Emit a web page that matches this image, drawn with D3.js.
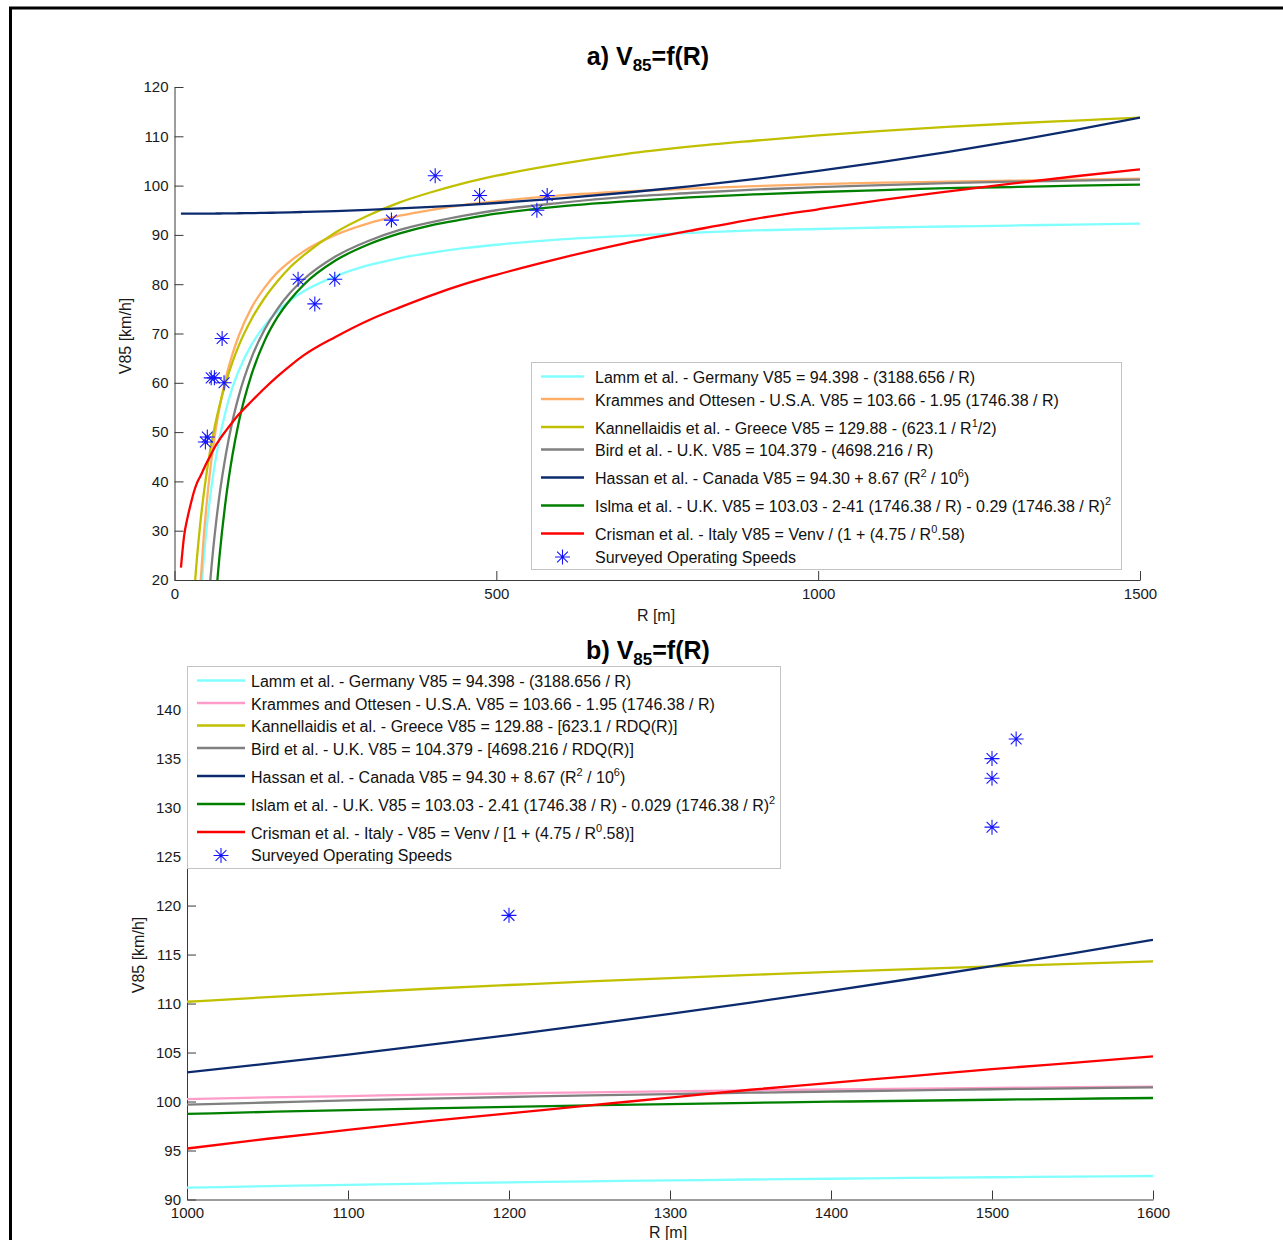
<!DOCTYPE html>
<html>
<head>
<meta charset="utf-8">
<script src="https://cdn.jsdelivr.net/npm/d3@7"></script>
<style>
  body { margin: 0; background: #fff; }
  svg { font-family: "Liberation Sans", Arial, sans-serif; }
  text { white-space: pre; }
</style>
</head>
<body>
<div id="vis"></div>
<script>
//Frame constants
const FRAME_WIDTH = 1283;
const FRAME_HEIGHT = 1240;

//---- Data, panel a (R 0-1500) ----
const R_A = [10, 15, 20, 25, 30, 35, 40, 45, 50, 55, 60, 65, 70, 80, 90, 100, 120, 140, 160, 180, 200,
             250, 300, 350, 400, 450, 500, 600, 700, 800, 900, 1000, 1100, 1200, 1300, 1400, 1500];
const LAMM_A = [null, null, null, null, null, 3.3, 14.7, 23.5, 30.6, 36.4, 41.3, 45.3, 48.8, 54.5, 59.0, 62.5,
                67.8, 71.6, 74.5, 76.7, 78.5, 81.6, 83.8, 85.3, 86.4, 87.3, 88.0, 89.1, 89.8, 90.4, 90.9,
                91.2, 91.5, 91.7, 91.9, 92.1, 92.3];
const KRAMMES_A = [null, null, null, null, null, 6.4, 18.5, 28.0, 35.5, 41.8, 46.9, 51.3, 55.0, 61.1, 65.8, 69.6,
                   75.3, 79.3, 82.4, 84.7, 86.6, 90.0, 92.3, 93.9, 95.1, 96.1, 96.8, 98.0, 98.8, 99.4, 99.9,
                   100.3, 100.6, 100.8, 101.0, 101.2, 101.4];
const KANNELLAIDIS_A = [null, null, null, 5.3, 16.1, 24.6, 31.4, 37.0, 41.8, 45.9, 49.5, 52.6, 55.4, 60.2, 64.2, 67.6,
                        73.0, 77.2, 80.6, 83.5, 85.8, 90.5, 93.9, 96.6, 98.7, 100.5, 102.0, 104.4, 106.4, 107.9, 109.1,
                        110.2, 111.1, 111.9, 112.6, 113.2, 113.8];
const BIRD_A = [null, null, null, null, null, null, null, 0.0, 10.4, 19.0, 26.1, 32.1, 37.3, 45.6, 52.2, 57.4,
                65.2, 70.8, 75.0, 78.3, 80.9, 85.6, 88.7, 91.0, 92.6, 93.9, 95.0, 96.5, 97.7, 98.5, 99.2,
                99.7, 100.1, 100.5, 100.8, 101.0, 101.2];
const HASSAN_A = [94.30, 94.30, 94.30, 94.31, 94.31, 94.31, 94.31, 94.32, 94.32, 94.33, 94.33, 94.34, 94.34, 94.36, 94.37, 94.39,
                  94.42, 94.47, 94.52, 94.58, 94.65, 94.84, 95.08, 95.36, 95.69, 96.06, 96.47, 97.42, 98.55, 99.85, 101.32,
                  102.97, 104.79, 106.78, 108.95, 111.29, 113.81];
const ISLAM_A = [null, null, null, null, null, null, null, null, null, -2.7, 8.2, 17.4, 24.9, 36.6, 45.3, 52.1,
                 61.8, 68.5, 73.3, 76.9, 79.8, 84.8, 88.0, 90.3, 92.0, 93.2, 94.3, 95.8, 96.8, 97.6, 98.2,
                 98.7, 99.1, 99.5, 99.7, 100.0, 100.2];
const CRISMAN_A = [22.5, 29.0, 32.5, 35.3, 37.8, 39.7, 41.0, 42.4, 43.8, 45.0, 46.3, 47.5, 48.5, 50.3, 52.0, 53.6,
                   56.3, 58.9, 61.3, 63.5, 65.5, 69.3, 72.6, 75.3, 77.8, 80.0, 81.9, 85.3, 88.3, 90.8, 93.2,
                   95.2, 97.1, 98.8, 100.4, 101.9, 103.3];
const SURVEY_R_A = [48, 51, 57, 62, 74, 77, 192, 218, 249, 337, 405, 474, 563, 579];
const SURVEY_V_A = [48, 49, 61, 61, 69, 60, 81, 76, 81, 93, 102, 98, 95, 98];

//---- Data, panel b (R 1000-1600) ----
const R_B = [1000, 1050, 1100, 1150, 1200, 1250, 1300, 1350, 1400, 1450, 1500, 1550, 1600];
const LAMM_B = [91.21, 91.36, 91.50, 91.63, 91.74, 91.85, 91.95, 92.04, 92.12, 92.20, 92.27, 92.34, 92.40];
const KRAMMES_B = [100.25, 100.42, 100.56, 100.70, 100.82, 100.94, 101.04, 101.14, 101.23, 101.31, 101.39, 101.46, 101.53];
const KANNELLAIDIS_B = [110.18, 110.65, 111.09, 111.51, 111.89, 112.26, 112.60, 112.92, 113.23, 113.52, 113.79, 114.05, 114.30];
const BIRD_B = [99.68, 99.90, 100.11, 100.29, 100.46, 100.62, 100.76, 100.90, 101.02, 101.14, 101.25, 101.35, 101.44];
const HASSAN_B = [102.97, 103.86, 104.79, 105.77, 106.78, 107.85, 108.95, 110.10, 111.29, 112.53, 113.81, 115.13, 116.50];
const ISLAM_B = [98.73, 98.94, 99.13, 99.30, 99.46, 99.61, 99.74, 99.86, 99.98, 100.08, 100.18, 100.28, 100.36];
const CRISMAN_B = [95.2, 96.2, 97.1, 98.0, 98.8, 99.6, 100.4, 101.2, 101.9, 102.6, 103.3, 103.95, 104.6];
const SURVEY_R_B = [1200, 1500, 1500, 1500, 1515];
const SURVEY_V_B = [119, 135, 133, 128, 137];

//Ticks
const X_TICKS_A = [0, 500, 1000, 1500];
const Y_TICKS_A = [20, 30, 40, 50, 60, 70, 80, 90, 100, 110, 120];
const X_TICKS_B = [1000, 1100, 1200, 1300, 1400, 1500, 1600];
const Y_TICKS_B = [90, 95, 100, 105, 110, 115, 120, 125, 130, 135, 140];

//Legend labels (^x = one superscript character)
const LEGEND_A = [
  "Lamm et al. - Germany V85 = 94.398 - (3188.656 / R)",
  "Krammes and Ottesen - U.S.A. V85 = 103.66 - 1.95 (1746.38 / R)",
  "Kannellaidis et al. - Greece V85 = 129.88 - (623.1 / R^1/2)",
  "Bird et al. - U.K. V85 = 104.379 - (4698.216 / R)",
  "Hassan et al. - Canada V85 = 94.30 + 8.67 (R^2 / 10^6)",
  "Islma et al. - U.K. V85 = 103.03 - 2-41 (1746.38 / R) - 0.29 (1746.38 / R)^2",
  "Crisman et al. - Italy V85 = Venv / (1 + (4.75 / R^0.58)",
  "Surveyed Operating Speeds"
];
const LEGEND_B = [
  "Lamm et al. - Germany V85 = 94.398 - (3188.656 / R)",
  "Krammes and Ottesen - U.S.A. V85 = 103.66 - 1.95 (1746.38 / R)",
  "Kannellaidis et al. - Greece V85 = 129.88 - [623.1 / RDQ(R)]",
  "Bird et al. - U.K. V85 = 104.379 - [4698.216 / RDQ(R)]",
  "Hassan et al. - Canada V85 = 94.30 + 8.67 (R^2 / 10^6)",
  "Islam et al. - U.K. V85 = 103.03 - 2.41 (1746.38 / R) - 0.029 (1746.38 / R)^2",
  "Crisman et al. - Italy - V85 = Venv / [1 + (4.75 / R^0.58)]",
  "Surveyed Operating Speeds"
];

const COLORS_A = ["#80ffff", "#ffae68", "#c0c000", "#808080", "#0c2b6e", "#008000", "#ff0000"];
const COLORS_B = ["#80ffff", "#ff9cc9", "#c0c000", "#808080", "#0c2b6e", "#008000", "#ff0000"];
const STAR_COLOR = "#1414ff";

//Create frame
const FRAME = d3.select("#vis")
                  .append("svg")
                    .attr("width", FRAME_WIDTH)
                    .attr("height", FRAME_HEIGHT);

//outer border (top and left only are in view)
FRAME.append("path")
      .attr("d", "M10.5,1240 V8 H1283")
      .attr("fill", "none")
      .attr("stroke", "#000")
      .attr("stroke-width", 3);

//MATLAB style star marker
function starPath(cx, cy, r) {
  const p = d3.path();
  const d = r * 0.72;
  p.moveTo(cx - r, cy); p.lineTo(cx + r, cy);
  p.moveTo(cx, cy - r); p.lineTo(cx, cy + r);
  p.moveTo(cx - d, cy - d); p.lineTo(cx + d, cy + d);
  p.moveTo(cx - d, cy + d); p.lineTo(cx + d, cy - d);
  return p.toString();
}

//text with one-char superscripts
function richText(sel, str, supSize) {
  const parts = str.split(/\^(.)/);
  parts.forEach((p, i) => {
    if (p === "") return;
    const t = sel.append("tspan").text(p);
    if (i % 2 === 1) t.attr("font-size", supSize).attr("dy", -7);
    else if (i > 0) t.attr("dy", 7);
  });
}

function drawPanel(cfg) {
  const X_SCALE = d3.scaleLinear().domain(cfg.xDomain).range([cfg.left, cfg.right]);
  const Y_SCALE = d3.scaleLinear().domain(cfg.yDomain).range([cfg.bottom, cfg.top]);

  const g = FRAME.append("g");

  //Title
  const title = g.append("text")
                  .attr("x", cfg.titleX)
                  .attr("y", cfg.titleY)
                  .attr("text-anchor", "middle")
                  .attr("font-weight", "bold")
                  .attr("font-size", 25)
                  .attr("fill", "#000");
  title.append("tspan").text(cfg.titlePrefix + "V");
  title.append("tspan").attr("font-size", 17).attr("dy", 6).text("85");
  title.append("tspan").attr("dy", -6).text("=f(R)");

  //X axis
  const xAxis = g.append("g")
        .attr("transform", "translate(0," + cfg.bottom + ")")
        .call(d3.axisBottom(X_SCALE).tickValues(cfg.xTicks).tickFormat(d3.format("d"))
                .tickSizeInner(-9).tickSizeOuter(0).tickPadding(8));
  //Y axis
  const yAxis = g.append("g")
        .attr("transform", "translate(" + cfg.left + ",0)")
        .call(d3.axisLeft(Y_SCALE).tickValues(cfg.yTicks).tickFormat(d3.format("d"))
                .tickSizeInner(-9).tickSizeOuter(0).tickPadding(6));
  [xAxis, yAxis].forEach((ax) => {
    ax.attr("font-size", 15).attr("font-family", null);
    ax.select(".domain").attr("stroke", "#3a3a3a");
    ax.selectAll(".tick line").attr("stroke", "#3a3a3a");
    ax.selectAll(".tick text").attr("fill", "#1a1a1a");
  });

  //Axis labels
  g.append("text")
    .attr("x", cfg.xLabelX).attr("y", cfg.xLabelY)
    .attr("text-anchor", "middle").attr("font-size", 16).attr("fill", "#1a1a1a")
    .text("R [m]");
  g.append("text")
    .attr("transform", "translate(" + cfg.yLabelX + "," + cfg.yLabelY + ") rotate(-90)")
    .attr("text-anchor", "middle").attr("dy", "0.35em").attr("font-size", 16).attr("fill", "#1a1a1a")
    .text("V85 [km/h]");

  //Clip for curves
  g.append("clipPath").attr("id", cfg.id + "-clip")
    .append("rect")
      .attr("x", cfg.left).attr("y", cfg.top)
      .attr("width", cfg.right - cfg.left).attr("height", cfg.bottom - cfg.top);

  const line = d3.line()
                  .defined((d) => d[1] !== null)
                  .curve(d3.curveMonotoneX)
                  .x((d) => X_SCALE(d[0]))
                  .y((d) => Y_SCALE(d[1]));

  g.append("g")
    .attr("clip-path", "url(#" + cfg.id + "-clip)")
    .selectAll("path")
    .data(cfg.series)
    .enter()
    .append("path")
      .attr("d", (s) => line(cfg.r.map((r, i) => [r, s[i]])))
      .attr("fill", "none")
      .attr("stroke", (s, i) => cfg.colors[i])
      .attr("stroke-width", 2.3)
      .attr("stroke-linejoin", "round");

  //Surveyed points
  g.append("g")
    .selectAll("path")
    .data(cfg.surveyR.map((r, i) => [r, cfg.surveyV[i]]))
    .enter()
    .append("path")
      .attr("d", (d) => starPath(X_SCALE(d[0]), Y_SCALE(d[1]), 7.5))
      .attr("stroke", STAR_COLOR)
      .attr("stroke-width", 1.1)
      .attr("fill", "none");

  //Legend
  const L = cfg.legend;
  const lg = g.append("g");
  lg.append("rect")
    .attr("x", L.x0 + 0.5).attr("y", L.y0 + 0.5)
    .attr("width", L.x1 - L.x0).attr("height", L.y1 - L.y0)
    .attr("fill", "#fff").attr("stroke", "#c4c4c4");

  let rowY = L.y0 + 15.5;
  cfg.labels.forEach((lab, i) => {
    if (i > 0) rowY += lab.includes("^") ? 28 : 22.5;
    if (i < cfg.colors.length) {
      lg.append("line")
        .attr("x1", L.lineX0).attr("x2", L.lineX1)
        .attr("y1", rowY - 1).attr("y2", rowY - 1)
        .attr("stroke", cfg.colors[i]).attr("stroke-width", 2.3);
    } else {
      lg.append("path")
        .attr("d", starPath((L.lineX0 + L.lineX1) / 2, rowY, 7.5))
        .attr("stroke", STAR_COLOR).attr("stroke-width", 1.1).attr("fill", "none");
    }
    const t = lg.append("text")
                .attr("x", L.textX).attr("y", rowY)
                .attr("dy", "0.35em")
                .attr("font-size", 16)
                .attr("fill", "#111");
    richText(t, lab, 11);
  });
}

//Panel a
drawPanel({
  id: "pa",
  left: 174.5, right: 1140, top: 87, bottom: 580,
  xDomain: [0, 1500], yDomain: [20, 120],
  xTicks: X_TICKS_A, yTicks: Y_TICKS_A,
  titlePrefix: "a) ", titleX: 648, titleY: 65,
  xLabelX: 656, xLabelY: 621, yLabelX: 125, yLabelY: 336,
  r: R_A,
  series: [LAMM_A, KRAMMES_A, KANNELLAIDIS_A, BIRD_A, HASSAN_A, ISLAM_A, CRISMAN_A],
  colors: COLORS_A,
  surveyR: SURVEY_R_A, surveyV: SURVEY_V_A,
  labels: LEGEND_A,
  legend: {x0: 531, x1: 1121, y0: 362, y1: 569, lineX0: 541, lineX1: 584, textX: 595}
});

//Panel b
drawPanel({
  id: "pb",
  left: 187, right: 1153, top: 665.5, bottom: 1199.5,
  xDomain: [1000, 1600], yDomain: [90, 144.5],
  xTicks: X_TICKS_B, yTicks: Y_TICKS_B,
  titlePrefix: "b) ", titleX: 648, titleY: 659,
  xLabelX: 668, xLabelY: 1238, yLabelX: 138, yLabelY: 955,
  r: R_B,
  series: [LAMM_B, KRAMMES_B, KANNELLAIDIS_B, BIRD_B, HASSAN_B, ISLAM_B, CRISMAN_B],
  colors: COLORS_B,
  surveyR: SURVEY_R_B, surveyV: SURVEY_V_B,
  labels: LEGEND_B,
  legend: {x0: 187, x1: 780, y0: 666, y1: 868, lineX0: 197, lineX1: 245, textX: 251}
});
</script>
</body>
</html>
